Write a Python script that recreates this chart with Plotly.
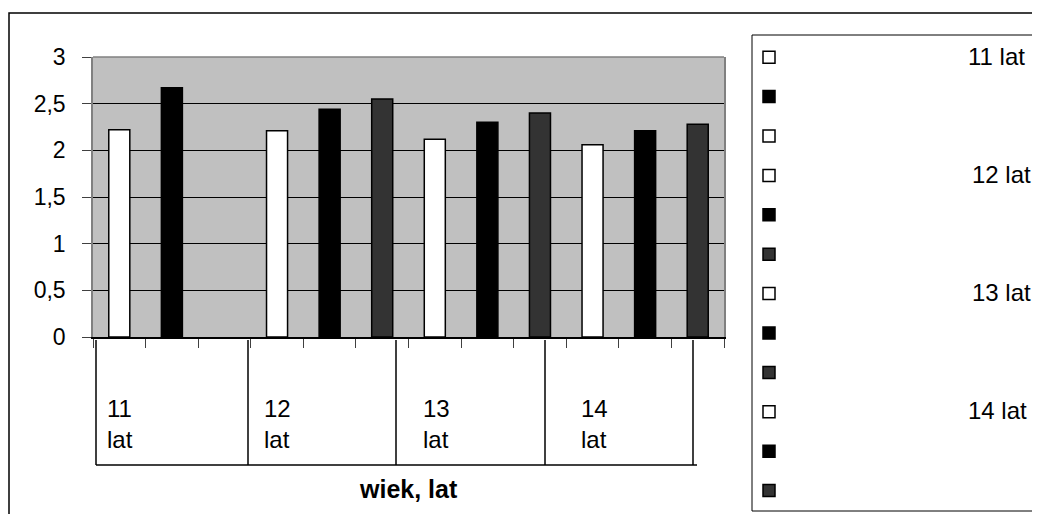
import plotly.graph_objects as go

# dane
ages = ["11 lat", "12 lat", "13 lat", "14 lat"]
values_11 = [2.22, 2.67, None]
values_12 = [2.21, 2.44, 2.55]
values_13 = [2.12, 2.30, 2.40]
values_14 = [2.06, 2.21, 2.28]
colors_11 = ["#FFFFFF", "#000000", "#FFFFFF"]
colors_rest = ["#FFFFFF", "#000000", "#333333"]
y_ticks = [0, 0.5, 1, 1.5, 2, 2.5, 3]

groups = [values_11, values_12, values_13, values_14]
group_colors = [colors_11, colors_rest, colors_rest, colors_rest]

# strona html ma margines 8 px, więc rysunek jest o tyle mniejszy
OFF = 8
W, H = 1040 - 2 * OFF, 522 - 2 * OFF
# obszar wykresu w pikselach strony
PL, PR, PT, PB = 93, 724, 57, 337


def px_x(p):
    return (p - PL) / (PR - PL)


def px_y(p):
    return (PB - p) / (PB - PT)


fig = go.Figure()
slot = 0
for vals, cols in zip(groups, group_colors):
    for v, c in zip(vals, cols):
        slot += 1
        fig.add_trace(go.Bar(
            x=[slot], y=[v],
            name="",
            width=0.4,
            marker=dict(color=c, line=dict(color="black", width=1.5)),
            legendgroup=f"g{slot}",
            showlegend=True,
            hoverinfo="y",
        ))

font = "Arial, Liberation Sans, sans-serif"

shapes = []
# ramka całego wykresu (prawa krawędź poza stroną)
shapes.append(dict(type="path", xref="paper", yref="paper",
                   path=f"M {px_x(1045)},{px_y(13)} L {px_x(9)},{px_y(13)} L {px_x(9)},{px_y(530)}",
                   line=dict(color="black", width=1.5), layer="below"))
# ramka legendy
shapes.append(dict(type="path", xref="paper", yref="paper",
                   path=(f"M {px_x(1045)},{px_y(35)} L {px_x(752)},{px_y(35)} "
                         f"L {px_x(752)},{px_y(511)} L {px_x(1045)},{px_y(511)}"),
                   line=dict(color="black", width=1), layer="below"))
# górna krawędź obszaru wykresu
shapes.append(dict(type="line", xref="paper", yref="paper",
                   x0=0, x1=1, y0=1, y1=1, line=dict(color="#808080", width=1.5)))
# podział kategorii (druga oś)
group_edges_px = [96, 248, 396, 545, 693]
for e in group_edges_px:
    shapes.append(dict(type="line", xref="paper", yref="paper",
                       x0=px_x(e), x1=px_x(e), y0=px_y(340), y1=px_y(465),
                       line=dict(color="black", width=1.5)))
shapes.append(dict(type="line", xref="paper", yref="paper",
                   x0=px_x(96), x1=px_x(697), y0=px_y(465), y1=px_y(465),
                   line=dict(color="black", width=1.5)))

annotations = []
group_label_px = [105, 262, 421, 579]
for age, lx in zip(ages, group_label_px):
    num, word = age.split(" ")
    annotations.append(dict(text=f"{num}<br>{word}", xref="paper", yref="paper",
                            x=px_x(lx), y=px_y(424), xanchor="left", yanchor="middle",
                            align="left", showarrow=False,
                            font=dict(family=font, size=24, color="black")))
annotations.append(dict(text="<b>wiek, lat</b>", xref="paper", yref="paper",
                        x=0.5, y=px_y(489), xanchor="center", yanchor="middle",
                        showarrow=False, font=dict(family=font, size=25, color="black")))
# opisy w legendzie
legend_label_px = [966, 970, 970, 966]
for g, (age, lx) in enumerate(zip(ages, legend_label_px)):
    row_y = 56 + g * 3 * 39.4
    annotations.append(dict(text=age, xref="paper", yref="paper",
                            x=px_x(lx), y=px_y(row_y), xanchor="left", yanchor="middle",
                            showarrow=False, font=dict(family=font, size=24, color="black")))

fig.update_layout(
    width=W, height=H,
    margin=dict(l=PL - OFF, r=W - (PR - OFF), t=PT - OFF, b=H - (PB - OFF), autoexpand=False),
    paper_bgcolor="white",
    plot_bgcolor="#C0C0C0",
    separators=", ",
    barmode="overlay",
    font=dict(family=font, color="black"),
    showlegend=True,
    legend=dict(x=px_x(749), y=px_y(39), xanchor="left", yanchor="top",
                bgcolor="rgba(0,0,0,0)", borderwidth=0, maxheight=520,
                font=dict(size=18), tracegroupgap=13, traceorder="grouped"),
    shapes=shapes,
    annotations=annotations,
)

fig.update_xaxes(
    range=[0.5, 12.5],
    tickvals=[i + 0.5 for i in range(13)],
    showticklabels=False,
    ticks="outside", ticklen=9, tickcolor="#404040", tickwidth=1,
    showgrid=False, zeroline=False,
    showline=True, linecolor="black", linewidth=1.5,
)
fig.update_yaxes(
    range=[0, 3],
    tickvals=y_ticks,
    ticks="outside", ticklen=9, tickcolor="#404040", tickwidth=1,
    tickfont=dict(size=23, family=font, color="black"),
    ticklabelstandoff=12,
    showgrid=True, gridcolor="black", gridwidth=1,
    zeroline=False,
    showline=True, linecolor="#808080", linewidth=1.5, mirror=True,
)

fig.write_html("out.html")
